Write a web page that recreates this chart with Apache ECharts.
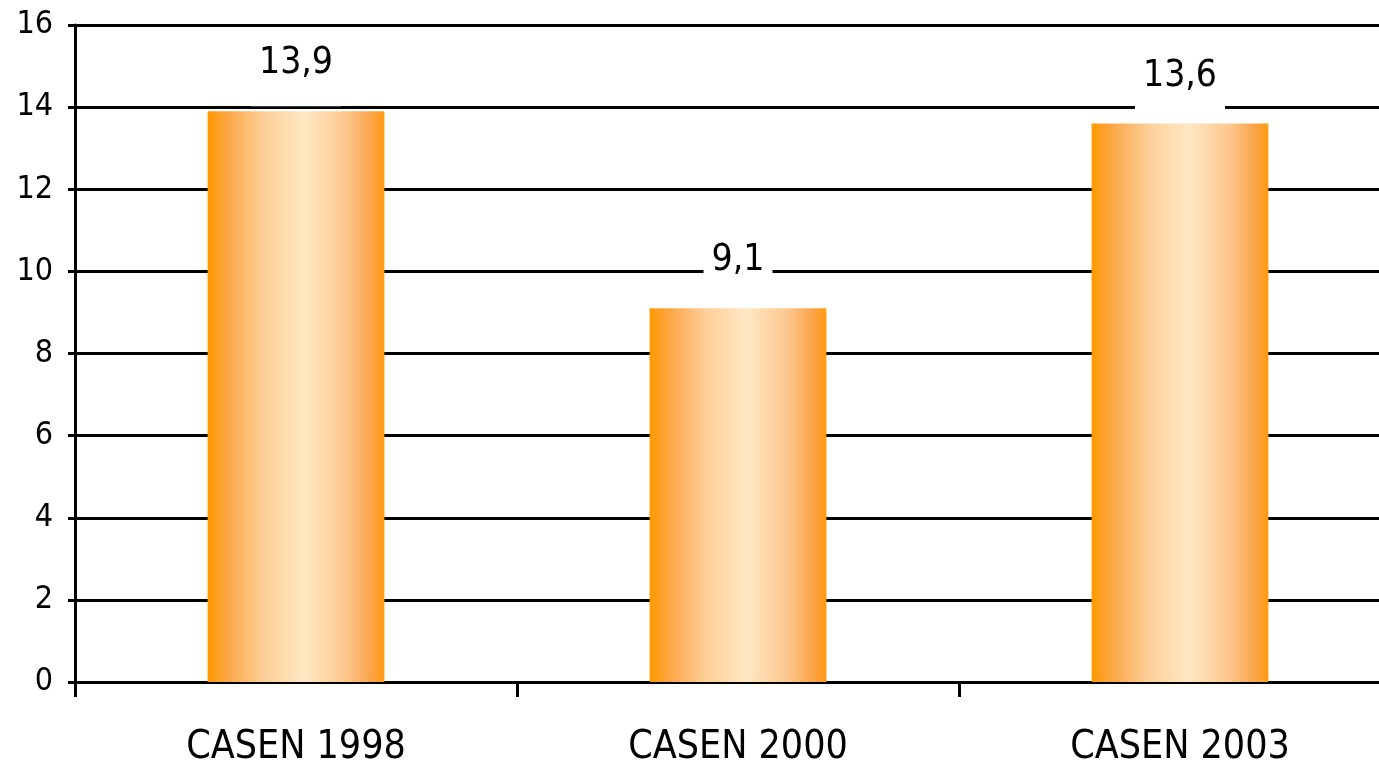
<!DOCTYPE html>
<html>
<head>
<meta charset="utf-8">
<script src="https://cdn.jsdelivr.net/npm/echarts@6/dist/echarts.min.js"></script>
<style>
html,body{margin:0;padding:0;background:#fff;overflow:hidden;}
#chart{width:1401px;height:768px;}
</style>
</head>
<body>
<div id="chart"></div>
<script>
const categories = ['CASEN 1998', 'CASEN 2000', 'CASEN 2003'];
const values = [13.9, 9.1, 13.6];
const yMin = 0, yMax = 16, yStep = 2;

const FONT = "'DejaVu Sans', sans-serif";
const STRETCH = 'condensed';
const chart = echarts.init(document.getElementById('chart'), null, {renderer: 'canvas'});
const barGradient = new echarts.graphic.LinearGradient(0, 0, 1, 0, [
  {offset: 0, color: '#FF9900'},
  {offset: 0.12, color: '#FCA748'},
  {offset: 0.32, color: '#FDCF98'},
  {offset: 0.55, color: '#FFE8C4'},
  {offset: 0.78, color: '#FDC78E'},
  {offset: 0.92, color: '#FBA54C'},
  {offset: 1, color: '#FF9A12'}
]);
chart.setOption({
  animation: false,
  backgroundColor: '#ffffff',
  grid: {left: 75, top: 25, bottom: 86, right: 0, containLabel: false},
  xAxis: {
    type: 'category',
    data: categories,
    axisLine: {lineStyle: {color: '#000', width: 3}},
    axisTick: {show: true, length: 15, alignWithLabel: false, interval: 0, lineStyle: {color: '#000', width: 3}},
    axisLabel: {color: '#000', fontFamily: FONT, fontWeight: STRETCH, fontSize: 39, lineHeight: 39, margin: 46, interval: 0}
  },
  yAxis: {
    type: 'value',
    min: yMin, max: yMax, interval: yStep,
    axisLine: {show: true, lineStyle: {color: '#000', width: 3}},
    axisTick: {show: true, length: 7, lineStyle: {color: '#000', width: 3}},
    splitLine: {show: true, lineStyle: {color: '#000', width: 3}},
    axisLabel: {color: '#000', fontFamily: FONT, fontWeight: STRETCH, fontSize: 32, margin: 22}
  },
  series: [{
    type: 'bar',
    data: values,
    barWidth: '40%',
    itemStyle: {color: barGradient},
    label: {
      show: true,
      position: 'top',
      distance: 5,
      color: '#000',
      fontFamily: FONT,
      fontWeight: STRETCH,
      fontSize: 37,
      lineHeight: 37,
      backgroundColor: '#fff',
      padding: [4, 8, 24, 8],
      formatter: p => p.value.toFixed(1).replace('.', ',')
    }
  }]
});
</script>
</body>
</html>
